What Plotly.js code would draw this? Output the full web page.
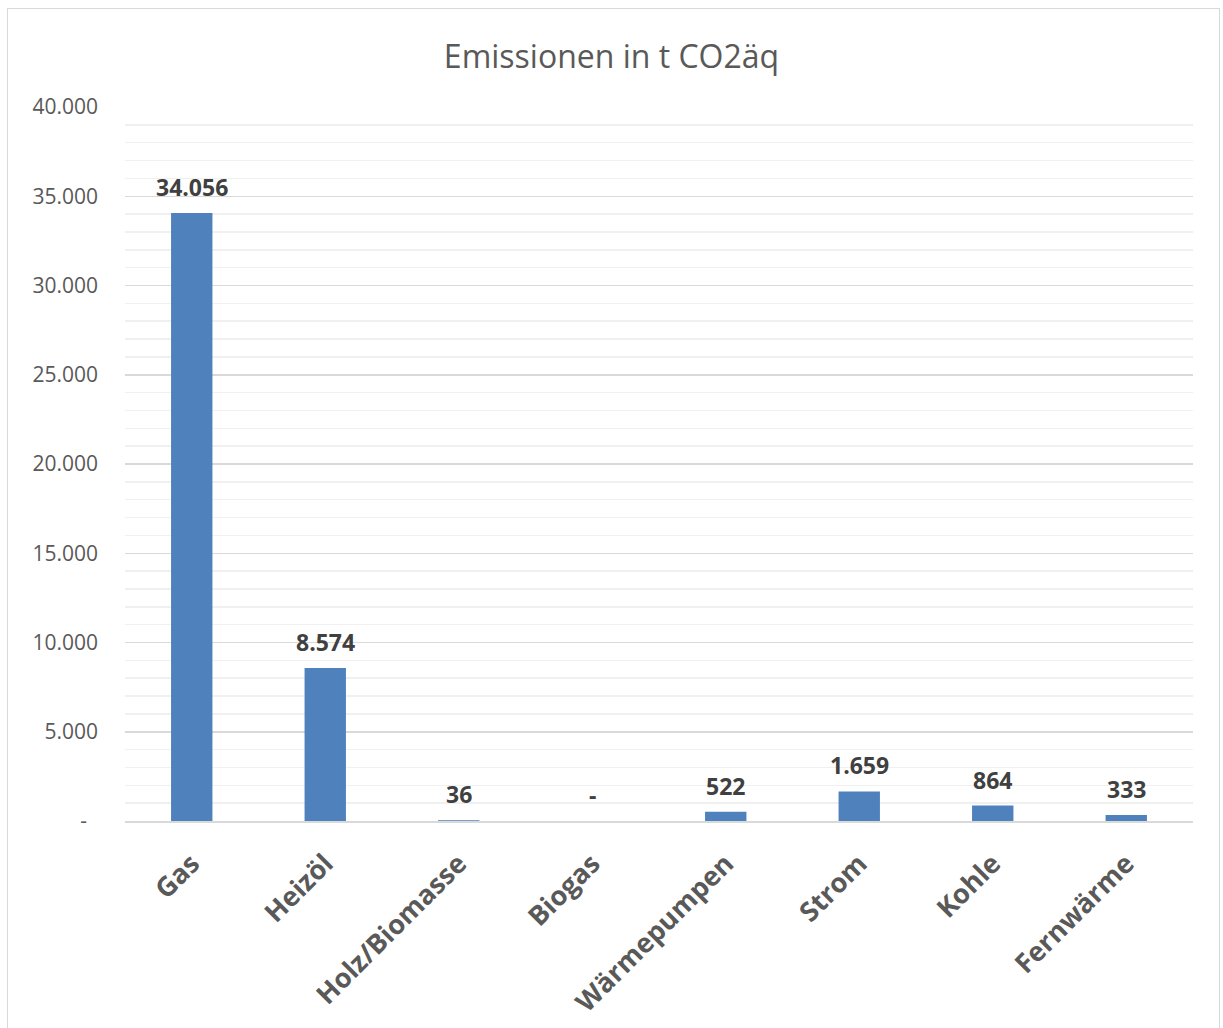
<!DOCTYPE html>
<html>
<head>
<meta charset="utf-8">
<script src="https://cdn.plot.ly/plotly-3.0.1.min.js"></script>
<style>
  html, body { margin: 0; padding: 0; background: #ffffff; }
  #chart { position: absolute; left: 0; top: 0; width: 1223px; height: 1028px; }
  #frame { position: absolute; left: 7px; top: 8px; width: 1211px; height: 1040px;
           border: 1px solid #d9d9d9; pointer-events: none; }
</style>
</head>
<body>
<div id="chart"></div>
<div id="frame"></div>
<script>
const categories = ["Gas", "Heizöl", "Holz/Biomasse", "Biogas", "Wärmepumpen", "Strom", "Kohle", "Fernwärme"];
const values = [34056, 8574, 36, 0, 522, 1659, 864, 333];
const yTickValues = [0, 5000, 10000, 15000, 20000, 25000, 30000, 35000, 40000];

function fmtDE(v) {
  if (v === 0) return "-";
  const s = Math.round(v).toString();
  return s.replace(/\B(?=(\d{3})+(?!\d))/g, ".");
}
const yTickText = yTickValues.map(v => v === 0 ? "-\u00a0\u00a0" : fmtDE(v));

const FONT = "Open Sans, Noto Sans, sans-serif";

const trace = {
  type: "bar",
  x: categories,
  y: values,
  marker: { color: "#4f81bd", line: { width: 0 } },
  width: 0.31,
  hoverinfo: "x+y"
};

const annotations = categories.map((c, i) => ({
  x: c, y: values[i], xref: "x", yref: "y",
  text: "<b>" + fmtDE(values[i]) + "</b>",
  showarrow: false, yanchor: "middle", xanchor: "center", yshift: 26,
  font: { family: FONT, size: 23, color: "#404040" }
}));

const layout = {
  width: 1223, height: 1028,
  margin: { l: 125, r: 30, t: 107, b: 207 },
  paper_bgcolor: "#ffffff", plot_bgcolor: "#ffffff",
  showlegend: false,
  bargap: 0.69,
  title: {
    text: "Emissionen in t CO2äq",
    x: 0.5, xanchor: "center", xref: "container",
    y: 1 - 57 / 1028, yanchor: "middle", yref: "container",
    font: { family: FONT, size: 32, color: "#595959" }
  },
  xaxis: {
    type: "category",
    tickangle: -45,
    tickfont: { family: FONT, size: 27, color: "#595959", weight: "bold" },
    showgrid: false, zeroline: false,
    showline: true, linecolor: "#d9d9d9", linewidth: 2,
    ticks: "", ticklabelstandoff: 14,
    fixedrange: true
  },
  yaxis: {
    range: [0, 40000],
    tickmode: "array", tickvals: yTickValues, ticktext: yTickText,
    tickfont: { family: FONT, size: 21, color: "#595959" },
    showgrid: true, gridcolor: "#d9d9d9", gridwidth: 1.5,
    zeroline: false, showline: false,
    ticks: "", ticklabelstandoff: 26,
    minor: { tickmode: "linear", tick0: 0, dtick: 1000, showgrid: true, gridcolor: "#f0f0f0", gridwidth: 1.5 },
    fixedrange: true
  },
  annotations: annotations
};

Plotly.newPlot("chart", [trace], layout, { displayModeBar: false, staticPlot: true });
</script>
</body>
</html>
